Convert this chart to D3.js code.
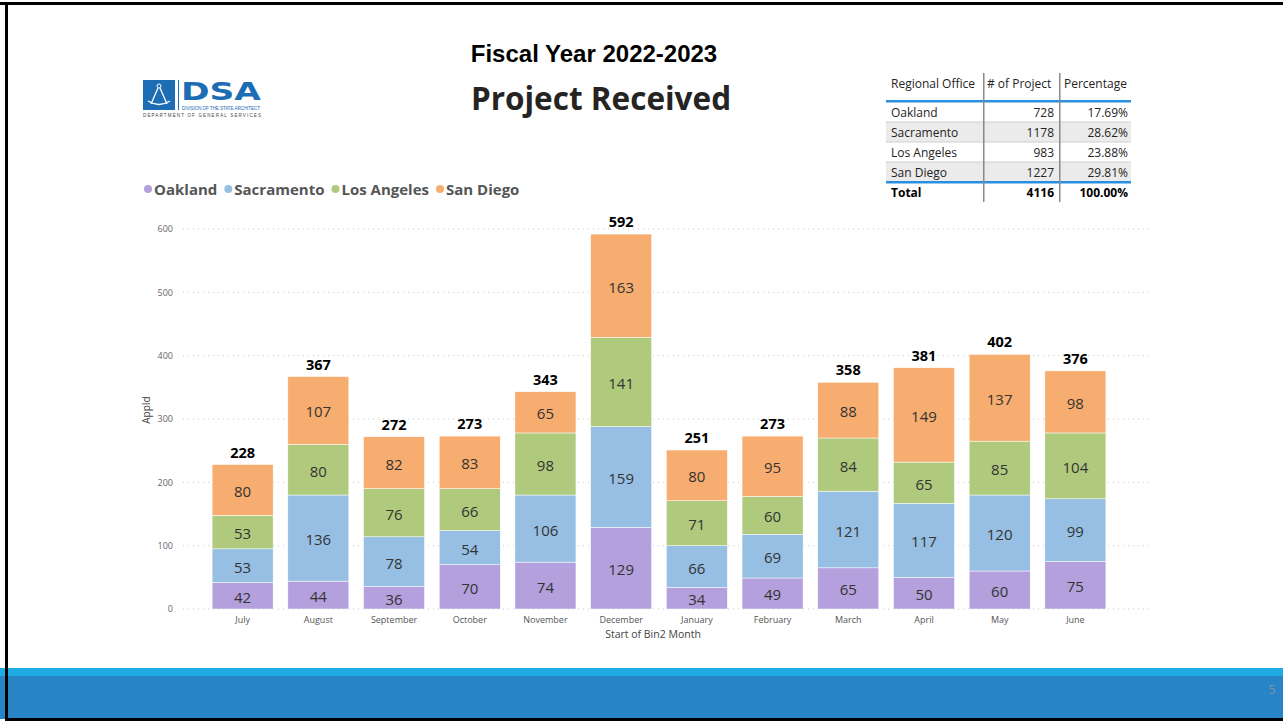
<!DOCTYPE html>
<html>
<head>
<meta charset="utf-8">
<script src="https://cdn.jsdelivr.net/npm/d3@7"></script>
<style>
  html, body { margin: 0; padding: 0; background: #fff; }
  svg { display: block; font-family: "Open Sans", "Noto Sans", sans-serif; }
</style>
</head>
<body>
<svg id="chart" width="1283" height="721"></svg>
<script>
// chart data
var months = ["July", "August", "September", "October", "November", "December",
              "January", "February", "March", "April", "May", "June"];
var offices = ["Oakland", "Sacramento", "Los Angeles", "San Diego"];
var oakland    = [42, 44, 36, 70, 74, 129, 34, 49, 65, 50, 60, 75];
var sacramento = [53, 136, 78, 54, 106, 159, 66, 69, 121, 117, 120, 99];
var losAngeles = [53, 80, 76, 66, 98, 141, 71, 60, 84, 65, 85, 104];
var sanDiego   = [80, 107, 82, 83, 65, 163, 80, 95, 88, 149, 137, 98];
var yTicks = [0, 100, 200, 300, 400, 500, 600];

// summary table
var tableOffices = ["Oakland", "Sacramento", "Los Angeles", "San Diego"];
var tableCounts = [728, 1178, 983, 1227];
var tablePcts = ["17.69%", "28.62%", "23.88%", "29.81%"];
var tableTotal = ["Total", "4116", "100.00%"];

var colors = ["#b4a0dc", "#96bfe3", "#afca7c", "#f7ad6f"];

var svg = d3.select("#chart");

// ---- frame and footer ----
svg.append("rect").attr("x", 0).attr("y", 668).attr("width", 1283).attr("height", 8).attr("fill", "#1eabe3");
svg.append("rect").attr("x", 0).attr("y", 676).attr("width", 1283).attr("height", 43).attr("fill", "#2784c7");
svg.append("text").attr("x", 1272).attr("y", 694).attr("text-anchor", "middle")
   .attr("font-size", 13).attr("fill", "#7f93a8").text("5");
svg.append("rect").attr("x", 0).attr("y", 2).attr("width", 1283).attr("height", 3).attr("fill", "#000");
svg.append("rect").attr("x", 5).attr("y", 2).attr("width", 3).attr("height", 719).attr("fill", "#000");
svg.append("rect").attr("x", 5).attr("y", 718).attr("width", 1278).attr("height", 3).attr("fill", "#000");

// ---- logo ----
var logo = svg.append("g").attr("transform", "translate(143,80)");
logo.append("rect").attr("width", 32).attr("height", 30).attr("fill", "#1d6db4");
// compass glyph
logo.append("circle").attr("cx", 16).attr("cy", 6).attr("r", 2).attr("fill", "none").attr("stroke", "#fff").attr("stroke-width", 1);
logo.append("path").attr("d", "M15,8 L8,24 M17,8 L24,24 M5,21 Q16,28 27,21")
    .attr("stroke", "#fff").attr("stroke-width", 1.3).attr("fill", "none");
logo.append("rect").attr("x", 35).attr("y", 0).attr("width", 1).attr("height", 30).attr("fill", "#1d6db4");
logo.append("text").attr("x", 38).attr("y", 20).attr("font-family", "'DejaVu Sans', sans-serif")
    .attr("font-weight", "bold").attr("font-size", 25).attr("fill", "#1d6db4")
    .attr("textLength", 80).attr("lengthAdjust", "spacingAndGlyphs").text("DSA");
logo.append("text").attr("x", 39).attr("y", 30).attr("font-family", "Arial, 'Liberation Sans', sans-serif")
    .attr("font-size", 4.6).attr("fill", "#1d6db4").attr("textLength", 78).text("DIVISION OF THE STATE ARCHITECT");
logo.append("text").attr("x", 0).attr("y", 37).attr("font-family", "Arial, 'Liberation Sans', sans-serif")
    .attr("font-size", 4.5).attr("fill", "#444").attr("textLength", 118).text("DEPARTMENT OF GENERAL SERVICES");

// ---- titles ----
svg.append("text").attr("x", 594).attr("y", 62).attr("text-anchor", "middle")
   .attr("font-family", "Arial, 'Liberation Sans', sans-serif").attr("font-weight", "bold")
   .attr("font-size", 24).attr("fill", "#000").text("Fiscal Year 2022-2023");
svg.append("text").attr("x", 601).attr("y", 110).attr("text-anchor", "middle")
   .attr("font-weight", "bold").attr("font-size", 31.5).attr("fill", "#252423").text("Project Received");

// ---- table ----
var tbl = svg.append("g");
var tLeft = 886, tRight = 1131, col1 = 983, col2 = 1059;
var rowY = [102, 122, 142, 162];
tableOffices.forEach(function (d, i) {
  if (i % 2 === 1) {
    tbl.append("rect").attr("x", tLeft).attr("y", rowY[i]).attr("width", tRight - tLeft).attr("height", 20).attr("fill", "#ebebeb");
  }
  tbl.append("text").attr("x", 891).attr("y", rowY[i] + 15).attr("font-size", 12).attr("fill", "#252423").text(d);
  tbl.append("text").attr("x", 1054).attr("y", rowY[i] + 15).attr("text-anchor", "end").attr("font-size", 12).attr("fill", "#252423").text(tableCounts[i]);
  tbl.append("text").attr("x", 1128).attr("y", rowY[i] + 15).attr("text-anchor", "end").attr("font-size", 12).attr("fill", "#252423").text(tablePcts[i]);
  if (i > 0) {
    tbl.append("line").attr("x1", tLeft).attr("x2", tRight).attr("y1", rowY[i]).attr("y2", rowY[i]).attr("stroke", "#d0d0d0");
  }
});
tbl.append("text").attr("x", 891).attr("y", 88).attr("font-size", 12).attr("fill", "#252423").text("Regional Office");
tbl.append("text").attr("x", 987).attr("y", 88).attr("font-size", 12).attr("fill", "#252423").text("# of Project");
tbl.append("text").attr("x", 1064).attr("y", 88).attr("font-size", 12).attr("fill", "#252423").text("Percentage");
tbl.append("text").attr("x", 891).attr("y", 197).attr("font-size", 12).attr("font-weight", "bold").attr("fill", "#000").text(tableTotal[0]);
tbl.append("text").attr("x", 1054).attr("y", 197).attr("text-anchor", "end").attr("font-size", 12).attr("font-weight", "bold").attr("fill", "#000").text(tableTotal[1]);
tbl.append("text").attr("x", 1128).attr("y", 197).attr("text-anchor", "end").attr("font-size", 12).attr("font-weight", "bold").attr("fill", "#000").text(tableTotal[2]);
tbl.append("rect").attr("x", tLeft).attr("y", 100).attr("width", tRight - tLeft).attr("height", 2.5).attr("fill", "#2b8fe0");
tbl.append("rect").attr("x", tLeft).attr("y", 181).attr("width", tRight - tLeft).attr("height", 2.5).attr("fill", "#2b8fe0");
[col1, col2].forEach(function (x) {
  tbl.append("rect").attr("x", x).attr("y", 73).attr("width", 1.5).attr("height", 129).attr("fill", "#8a8a8a");
});

// ---- legend ----
var legend = svg.append("g").attr("transform", "translate(148,189)");
var lx = 0;
offices.forEach(function (d, i) {
  legend.append("circle").attr("cx", lx).attr("cy", 0).attr("r", 4).attr("fill", colors[i]);
  var t = legend.append("text").attr("x", lx + 6).attr("y", 5.5).attr("font-size", 15)
    .attr("font-weight", "bold").attr("fill", "#555").text(d);
  lx += 6 + t.node().getComputedTextLength() + 11;
});

// ---- chart ----
var x = d3.scaleBand().domain(months).range([200, 1118]).paddingInner(0.194).paddingOuter(0.16);
var y = d3.scaleLinear().domain([0, 600]).range([609, 229]);

var rows = months.map(function (m, i) {
  return { month: m, Oakland: oakland[i], Sacramento: sacramento[i], "Los Angeles": losAngeles[i], "San Diego": sanDiego[i] };
});
var stacked = d3.stack().keys(offices)(rows);

// gridlines
svg.append("g").selectAll("line").data(yTicks).enter().append("line")
   .attr("x1", 183).attr("x2", 1152).attr("y1", function (d) { return y(d); }).attr("y2", function (d) { return y(d); })
   .attr("stroke", "#c8c8c8").attr("stroke-dasharray", "1,4");

// y axis
var yAxis = svg.append("g").attr("transform", "translate(174,0)")
  .call(d3.axisLeft(y).tickValues(yTicks).tickSize(0).tickPadding(1));
yAxis.select(".domain").remove();
yAxis.selectAll("text").attr("font-size", 9).attr("fill", "#666").attr("font-family", "'Open Sans', sans-serif");
svg.append("text").attr("transform", "translate(150,410) rotate(-90)").attr("text-anchor", "middle")
   .attr("font-size", 10).attr("fill", "#444").text("AppId");

// x axis
var xAxis = svg.append("g").attr("transform", "translate(0,614)")
  .call(d3.axisBottom(x).tickSize(0).tickPadding(3));
xAxis.select(".domain").remove();
xAxis.selectAll("text").attr("font-size", 9).attr("fill", "#555").attr("font-family", "'Open Sans', sans-serif");
svg.append("text").attr("x", 653).attr("y", 638).attr("text-anchor", "middle")
   .attr("font-size", 10.5).attr("fill", "#444").text("Start of Bin2 Month");

// bars
var layers = svg.append("g").selectAll("g.layer").data(stacked).enter().append("g")
  .attr("class", "layer").attr("fill", function (d, i) { return colors[i]; });

layers.selectAll("rect").data(function (d) { return d; }).enter().append("rect")
  .attr("x", function (d) { return x(d.data.month); })
  .attr("width", x.bandwidth())
  .attr("y", function (d) { return y(d[1]); })
  .attr("height", function (d) { return y(d[0]) - y(d[1]); })
  .attr("stroke", "#fff").attr("stroke-width", 0.5);

layers.selectAll("text").data(function (d) { return d; }).enter().append("text")
  .attr("x", function (d) { return x(d.data.month) + x.bandwidth() / 2; })
  .attr("y", function (d) { return (y(d[0]) + y(d[1])) / 2 + 7; })
  .attr("text-anchor", "middle").attr("font-size", 15).attr("fill", "#333")
  .text(function (d) { return d[1] - d[0]; });

// totals on top of each stack
var topLayer = stacked[stacked.length - 1];
svg.append("g").selectAll("text").data(topLayer).enter().append("text")
  .attr("x", function (d) { return x(d.data.month) + x.bandwidth() / 2; })
  .attr("y", function (d) { return y(d[1]) - 7; })
  .attr("text-anchor", "middle").attr("font-size", 14.5).attr("font-weight", "bold").attr("fill", "#000")
  .text(function (d) { return d[1]; });
</script>
</body>
</html>
